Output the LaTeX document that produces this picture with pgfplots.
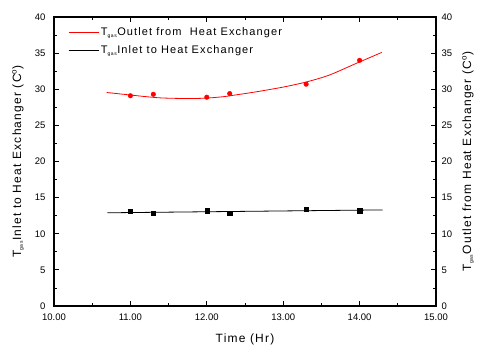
\documentclass[border=0pt]{standalone}
\usepackage{pgfplots}
\pgfplotsset{compat=1.18}
\usepackage{fontspec}
\setmainfont{Liberation Sans}
\newfontfamily\spaced[LetterSpace=10]{Liberation Sans}
\newcommand{\gas}{\textsubscript{\fontsize{5}{6}\selectfont gas}}
\newcommand{\labfont}{\fontsize{12}{14}\selectfont\spaced}
\begin{document}
\begin{tikzpicture}
\pgfplotsset{
  common/.style={
    scale only axis, width=382pt, height=289pt,
    xmin=10, xmax=15, ymin=0, ymax=40,
    ytick={0,5,...,40},
    /pgf/number format/assume math mode=true,
    tick label style={font=\fontsize{9.5}{11}\selectfont},
    axis line style={line width=1.1pt},
  }
}
\begin{axis}[common, name=main,
  xtick={10,...,15}, minor x tick num=1, minor y tick num=1,
  tick align=inside, xtick pos=both, ytick pos=both,
  xticklabel pos=lower, yticklabel pos=left,
  major tick length=5pt, minor tick length=3pt,
  every tick/.style={line width=0.8pt, black},
  xticklabel style={yshift=-4pt, /pgf/number format/.cd, fixed, fixed zerofill, precision=2},
  yticklabel style={xshift=-5pt},
  xlabel={Time (Hr)},
  every axis x label/.style={at={(axis description cs:0.5,-0.114)}, anchor=center, font=\labfont},
  ylabel={T\gas Inlet to Heat Exchanger (C$^{\mathrm{o}}$)},
  every axis y label/.style={at={(axis description cs:-0.094,0.5)}, anchor=center, rotate=90, font=\labfont},
  legend style={at={(rel axis cs:0.034,0.975)}, anchor=north west, draw=none, fill=none,
    font=\fontsize{11}{13}\selectfont\spaced, row sep=5pt, inner sep=1pt},
  legend cell align=left,
  legend image code/.code={\draw[#1] (0pt,0pt) -- (30pt,0pt);},
]
% fit curves (legend entries)
\addplot[red, line width=0.8pt, smooth, no marks] coordinates {
  (10.69,29.55) (11.0,29.2) (11.2,28.98) (11.4,28.8) (11.7,28.72) (11.95,28.75)
  (12.2,28.95) (12.4,29.25) (12.65,29.65) (13.0,30.3) (13.3,31.0) (13.6,31.95)
  (13.95,33.55) (14.29,35.1)};
\addlegendentry{T\gas Outlet from\ \ Heat Exchanger}
\addplot[black, line width=0.8pt, no marks] coordinates {(10.7,12.9) (14.3,13.3)};
\addlegendentry{T\gas Inlet to Heat Exchanger}
% data points
\addplot[only marks, mark=*, mark size=2.3pt, red, forget plot] coordinates {
  (11.0,29.1) (11.3,29.3) (12.0,28.9) (12.3,29.4) (13.3,30.7) (14.0,34.0)};
\addplot[only marks, mark=square*, mark size=2.1pt, black, forget plot] coordinates {
  (11.0,13.1) (11.3,12.8) (12.0,13.2) (12.3,12.8) (13.3,13.4) (14.0,13.2)};
\end{axis}
\begin{axis}[common,
  axis x line=none, axis y line*=right,
  ytick style={draw=none},
  yticklabel style={xshift=2pt},
  ylabel={T\gas Outlet from Heat Exchanger (C$^{\mathrm{o}}$)},
  every axis y label/.style={at={(axis description cs:1.084,0.5)}, anchor=center, rotate=90, font=\labfont},
]
\end{axis}
\pgfresetboundingbox
\path ([shift={(-54pt,-40pt)}]main.south west) rectangle ([shift={(44pt,17pt)}]main.north east);
\end{tikzpicture}
\end{document}
